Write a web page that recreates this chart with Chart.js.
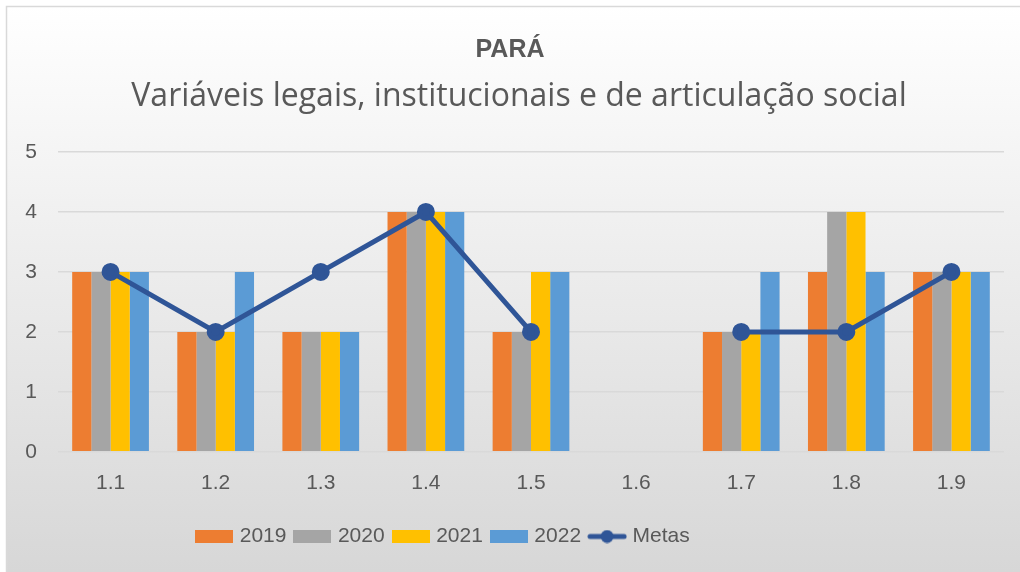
<!DOCTYPE html>
<html>
<head>
<meta charset="utf-8">
<script src="https://cdn.jsdelivr.net/npm/chart.js@4/dist/chart.umd.min.js"></script>
<style>
  body { margin: 0; background: #ffffff; }
  #box { width: 1020px; height: 572px; }
</style>
</head>
<body>
<div id="box"><canvas id="grafico" width="1020" height="572"></canvas></div>
<script>
var categorias = ['1.1', '1.2', '1.3', '1.4', '1.5', '1.6', '1.7', '1.8', '1.9'];
var anos = ['2019', '2020', '2021', '2022'];
var valores2019 = [3, 2, 2, 4, 2, 0, 2, 3, 3];
var valores2020 = [3, 2, 2, 4, 2, 0, 2, 4, 3];
var valores2021 = [3, 2, 2, 4, 3, 0, 2, 4, 3];
var valores2022 = [3, 3, 2, 4, 3, 0, 3, 3, 3];
var metas = [3, 2, 3, 4, 2, null, 2, 2, 3];
var ticksY = [0, 1, 2, 3, 4, 5];

var titulo = 'PARÁ';
var subtitulo = 'Variáveis legais, institucionais e de articulação social';

var cores = ['#ED7D31', '#A5A5A5', '#FFC000', '#5B9BD5'];
var corMeta = '#2F5597';
var corTexto = '#595959';
var fonte = "'Liberation Sans', Arial, sans-serif";

// legend markers (drawn a bit wider than the box so the text sits closer)
function caixaLegenda(cor) {
    var c = document.createElement('canvas');
    c.width = 38; c.height = 13;
    var ctx = c.getContext('2d');
    ctx.fillStyle = cor;
    ctx.fillRect(0, 0, 38, 13);
    return c;
}
function linhaLegenda(cor) {
    var c = document.createElement('canvas');
    c.width = 40; c.height = 14;
    var ctx = c.getContext('2d');
    ctx.strokeStyle = cor;
    ctx.lineWidth = 5;
    ctx.lineCap = 'round';
    ctx.beginPath();
    ctx.moveTo(3, 7); ctx.lineTo(37, 7);
    ctx.stroke();
    ctx.fillStyle = cor;
    ctx.beginPath();
    ctx.arc(20, 7, 6.5, 0, Math.PI * 2);
    ctx.fill();
    return c;
}

var fundo = {
    id: 'fundo',
    beforeDraw: function (chart) {
        var ctx = chart.ctx;
        ctx.save();
        ctx.fillStyle = '#ffffff';
        ctx.fillRect(0, 0, chart.width, chart.height);
        var g = ctx.createLinearGradient(0, 6, 0, chart.height);
        g.addColorStop(0, '#ffffff');
        g.addColorStop(1, '#d7d7d7');
        ctx.fillStyle = g;
        ctx.fillRect(6, 6, chart.width - 6, chart.height - 6);
        ctx.strokeStyle = '#d9d9d9';
        ctx.lineWidth = 1.5;
        ctx.beginPath();
        ctx.moveTo(6.5, chart.height);
        ctx.lineTo(6.5, 6.5);
        ctx.lineTo(chart.width, 6.5);
        ctx.stroke();
        ctx.restore();
    }
};

// nudge legend left and titles right, as in the original
var ajustes = {
    id: 'ajustes',
    afterLayout: function (chart) {
        if (chart.legend) chart.legend.right -= 115;
        chart.boxes.forEach(function (b) {
            if (!b.options || b === chart.legend) return;
            if (b.options.text === titulo) b.right += 16;
            if (b.options.text === subtitulo) b.right += 34;
        });
    }
};

var datasets = [valores2019, valores2020, valores2021, valores2022].map(function (v, i) {
    return {
        type: 'bar',
        label: anos[i],
        data: v,
        backgroundColor: cores[i],
        borderWidth: 0,
        order: 1,
        barPercentage: 1,
        categoryPercentage: 0.73
    };
});
datasets.push({
    type: 'line',
    label: 'Metas',
    data: metas,
    borderColor: corMeta,
    backgroundColor: corMeta,
    borderWidth: 5,
    pointRadius: 6.5,
    pointBackgroundColor: corMeta,
    pointBorderColor: corMeta,
    spanGaps: false,
    tension: 0,
    order: 0
});

var grafico = new Chart(document.getElementById('grafico'), {
    data: { labels: categorias, datasets: datasets },
    plugins: [fundo, ajustes],
    options: {
        responsive: false,
        animation: false,
        layout: { padding: { left: 0, right: 16, top: 0, bottom: 15 } },
        plugins: {
            title: {
                display: true,
                text: titulo,
                color: corTexto,
                font: { family: fonte, size: 25, weight: 'bold' },
                padding: { top: 35, bottom: 13 }
            },
            subtitle: {
                display: true,
                text: subtitulo,
                color: corTexto,
                font: { family: "'Open Sans', sans-serif", size: 32 },
                padding: { top: 0, bottom: 35.6 }
            },
            legend: {
                position: 'bottom',
                labels: {
                    color: corTexto,
                    font: { family: fonte, size: 21 },
                    usePointStyle: true,
                    pointStyleWidth: 30,
                    boxHeight: 13,
                    padding: 11,
                    generateLabels: function (chart) {
                        return chart.data.datasets.map(function (ds, i) {
                            return {
                                text: ds.label,
                                datasetIndex: i,
                                fontColor: corTexto,
                                hidden: false,
                                lineWidth: 0,
                                pointStyle: ds.type === 'line' ? linhaLegenda(corMeta) : caixaLegenda(cores[i])
                            };
                        });
                    }
                }
            },
            tooltip: { enabled: false }
        },
        scales: {
            x: {
                grid: { display: false, drawTicks: false },
                border: { display: false },
                ticks: { color: corTexto, font: { family: fonte, size: 21 }, padding: 19 }
            },
            y: {
                min: 0,
                max: 5,
                afterFit: function (scale) { scale.width = 58; },
                afterBuildTicks: function (scale) {
                    scale.ticks = ticksY.map(function (t) { return { value: t }; });
                },
                grid: { color: '#d9d9d9', lineWidth: 1.5, drawTicks: false },
                border: { display: false },
                ticks: { color: corTexto, font: { family: fonte, size: 21 }, padding: 21 }
            }
        }
    }
});
</script>
</body>
</html>
